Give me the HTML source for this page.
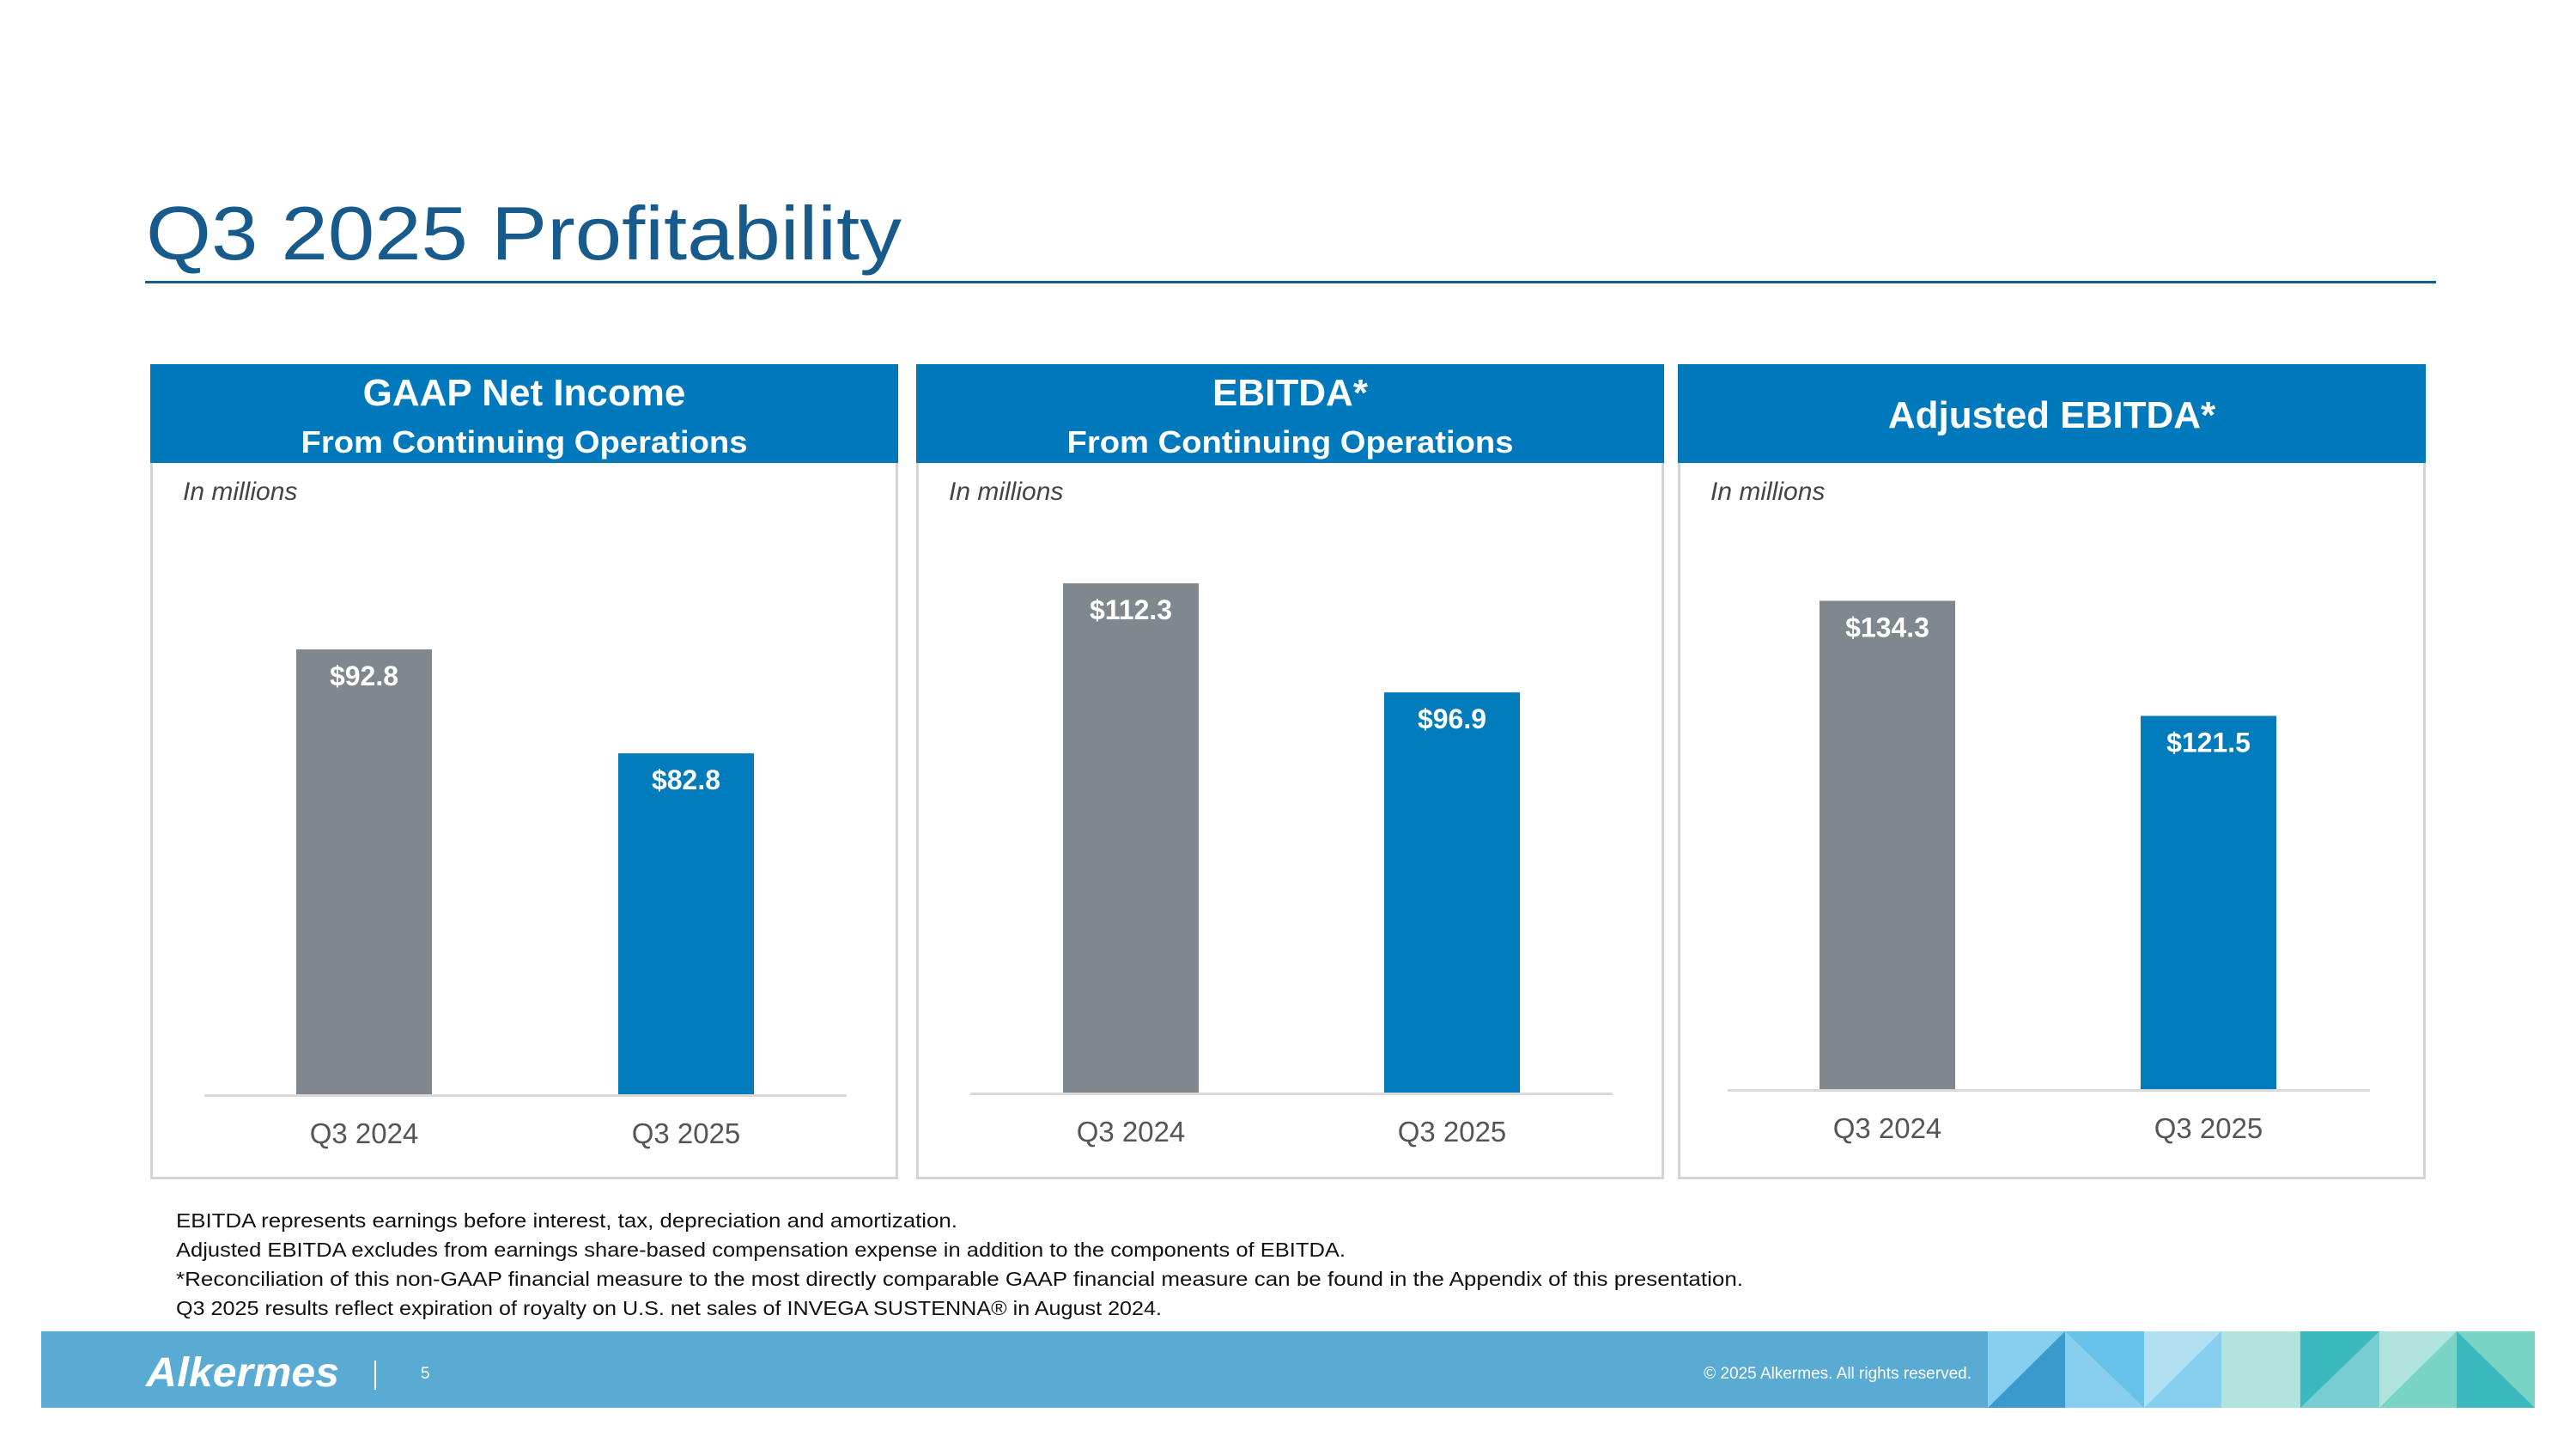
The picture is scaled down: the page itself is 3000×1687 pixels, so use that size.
<!DOCTYPE html>
<html><head><meta charset="utf-8"><style>
html,body{margin:0;padding:0;background:#fff;}
svg{display:block;font-family:"Liberation Sans",sans-serif;}
</style></head><body>
<svg id="slide" width="3000" height="1687" viewBox="0 0 3000 1687" xmlns="http://www.w3.org/2000/svg">
<text x="170" y="302" font-size="88" fill="#175a8c" textLength="880" lengthAdjust="spacingAndGlyphs">Q3 2025 Profitability</text>
<rect x="169" y="327" width="2668" height="3" fill="#175a8c"/>
<g id="panels"></g>
<g font-size="23" fill="#111">
<text x="205" y="1429" textLength="910" lengthAdjust="spacingAndGlyphs">EBITDA represents earnings before interest, tax, depreciation and amortization.</text>
<text x="205" y="1463" textLength="1362" lengthAdjust="spacingAndGlyphs">Adjusted EBITDA excludes from earnings share-based compensation expense in addition to the components of EBITDA.</text>
<text x="205" y="1497" textLength="1825" lengthAdjust="spacingAndGlyphs">*Reconciliation of this non-GAAP financial measure to the most directly comparable GAAP financial measure can be found in the Appendix of this presentation.</text>
<text x="205" y="1531" textLength="1148" lengthAdjust="spacingAndGlyphs">Q3 2025 results reflect expiration of royalty on U.S. net sales of INVEGA SUSTENNA® in August 2024.</text>
</g>
<g>
<rect x="48" y="1550" width="2904" height="89" fill="#5aabd3"/>
<rect x="2315" y="1550" width="637" height="89" fill="#87cfee"/>
<polygon points="2315,1639 2405,1550 2405,1639" fill="#3a9ace"/>
<polygon points="2405,1550 2497,1550 2497,1639" fill="#66c2e8"/>
<rect x="2497" y="1550" width="90" height="89" fill="#b1e0f2"/>
<polygon points="2497,1639 2587,1550 2587,1639" fill="#87cfee"/>
<rect x="2587" y="1550" width="92" height="89" fill="#b1e4dd"/>
<rect x="2679" y="1550" width="92" height="89" fill="#3cb8c0"/>
<polygon points="2679,1639 2771,1550 2771,1639" fill="#78cdd2"/>
<rect x="2771" y="1550" width="90" height="89" fill="#b1e4dd"/>
<polygon points="2771,1639 2861,1550 2861,1639" fill="#78d4c4"/>
<rect x="2861" y="1550" width="91" height="89" fill="#3cb8c0"/>
<polygon points="2861,1550 2952,1550 2952,1639" fill="#78d4c4"/>
<text x="170" y="1614" font-size="48" font-weight="bold" font-style="italic" fill="#fff" textLength="225" lengthAdjust="spacingAndGlyphs">Alkermes</text>
<rect x="436" y="1584" width="2" height="34" fill="#fff"/>
<text x="490" y="1605" font-size="19" fill="#fff">5</text>
<text x="2296" y="1605" font-size="19" fill="#fff" text-anchor="end">© 2025 Alkermes. All rights reserved.</text>
</g>
</svg>
<script>
const panelTitles = ["GAAP Net Income", "EBITDA*", "Adjusted EBITDA*"];
const panelSubtitles = ["From Continuing Operations", "From Continuing Operations", ""];
const categories = ["Q3 2024", "Q3 2025"];
const valuesQ3_2024 = [92.8, 112.3, 134.3];
const valuesQ3_2025 = [82.8, 96.9, 121.5];
const labelsQ3_2024 = ["$92.8", "$112.3", "$134.3"];
const labelsQ3_2025 = ["$82.8", "$96.9", "$121.5"];
const axisMin = [50, 40.4, 80];
const axisMax = [105.7, 121.9, 143.8];

const NS = "http://www.w3.org/2000/svg";
const layout = [
  {x:175, w:871, base:1274, ax0:238, ax1:986, bars:[345,720]},
  {x:1067, w:871, base:1272, ax0:1130, ax1:1878, bars:[1238,1612]},
  {x:1954, w:871, base:1268, ax0:2012, ax1:2760, bars:[2119,2493]}
];
const TOP = 600, BW = 158;
function mk(tag, attrs, parent){const e=document.createElementNS(NS,tag);for(const k in attrs)e.setAttribute(k,attrs[k]);parent.appendChild(e);return e;}
const root = document.getElementById("panels");
layout.forEach((L,i)=>{
  const g = mk("g",{},root);
  
  
  const box = mk("rect",{x:L.x+1.5,y:425.5,width:L.w-3,height:946,fill:"#fff",stroke:"#d4d4d4","stroke-width":3},g);
  
  
  const hd = mk("rect",{x:L.x,y:424,width:L.w,height:115,fill:"#0079bc"},g);
  
  
  const cx = L.x + L.w/2;
  const t = mk("text",{x:cx,y:panelSubtitles[i]?472:498,"font-size":44,"font-weight":"bold",fill:"#fff","text-anchor":"middle"},g);
  t.textContent = panelTitles[i];
  
  
  if(panelSubtitles[i]){
    const s = mk("text",{x:cx,y:527,"font-size":36,"font-weight":"bold",fill:"#fff","text-anchor":"middle",textLength:520,lengthAdjust:"spacingAndGlyphs"},g);
    s.textContent = panelSubtitles[i];
    
    
  }
  const u = mk("text",{x:L.x+38,y:582,"font-size":30,"font-style":"italic",fill:"#444"},g);
  u.textContent = "In millions";
  
  
  const y = v => L.base - (v-axisMin[i])/(axisMax[i]-axisMin[i])*(L.base-TOP);
  const vals=[valuesQ3_2024[i], valuesQ3_2025[i]];
  const labs=[labelsQ3_2024[i], labelsQ3_2025[i]];
  const cols=["#7f888e","#007bbb"];
  vals.forEach((v,j)=>{
    const top=y(v);
    const b = mk("rect",{x:L.bars[j],y:top,width:BW,height:L.base-top,fill:cols[j]},g);
    
    
    const vl = mk("text",{x:L.bars[j]+BW/2,y:top+42,"font-size":32,"font-weight":"bold",fill:"#fff","text-anchor":"middle"},g);
    vl.textContent = labs[j];
    
    
    const cl = mk("text",{x:L.bars[j]+BW/2,y:L.base+57,"font-size":33,fill:"#555","text-anchor":"middle"},g);
    cl.textContent = categories[j];
    
    
  });
  const ax = mk("rect",{x:L.ax0,y:L.base,width:L.ax1-L.ax0,height:3,fill:"#d9d9d9"},g);
  
  
});
</script>
</body></html>
